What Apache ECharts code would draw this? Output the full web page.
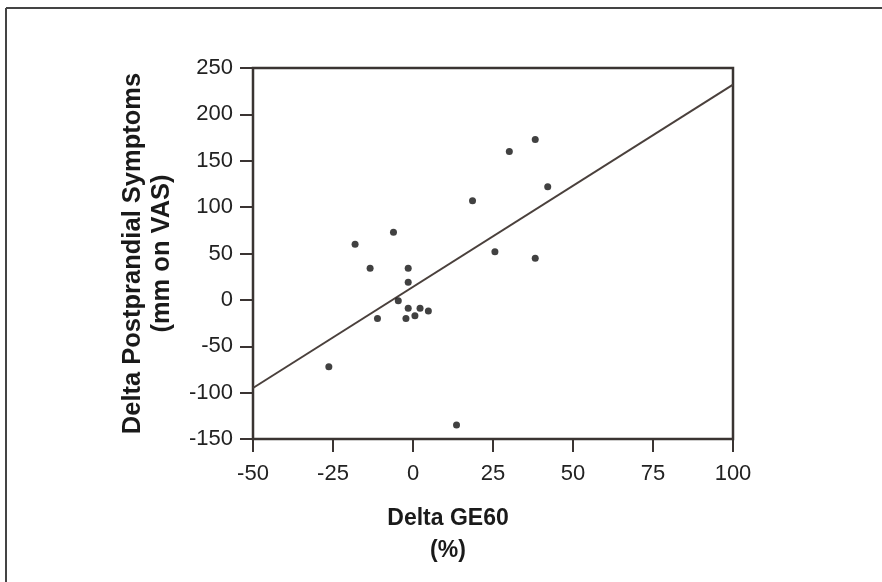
<!DOCTYPE html>
<html>
<head>
<meta charset="utf-8">
<script src="https://cdn.jsdelivr.net/npm/echarts@6/dist/echarts.min.js"></script>
<style>
  html, body { margin: 0; padding: 0; background: #fff; }
  #chart { width: 882px; height: 582px; }
</style>
</head>
<body>
<div id="chart"></div>
<script>
// data
const geX = [-26.3, -18.1, -13.4, -11.1, -6.1, -4.6, -2.2, -1.5, -1.5, -1.5, 0.6, 2.2, 4.8, 13.6, 18.6, 25.6, 30.1, 38.2, 38.2, 42.1]
const symptomY = [-72, 60, 34, -20, 73, -1, -20, 34, 19, -9, -17, -9, -12, -135, 107, 52, 160, 173, 45, 122]

// regression line ends
const fitX = [-50, 100]
const fitY = [-95, 232]

const xTicks = [-50, -25, 0, 25, 50, 75, 100]
const yTicks = [-150, -100, -50, 0, 50, 100, 150, 200, 250]

const points = geX.map((x, i) => [x, symptomY[i]])
const fitLine = fitX.map((x, i) => [x, fitY[i]])

const chart = echarts.init(document.getElementById('chart'))

const axisColor = '#3a3432'
const font = 'Liberation Sans, Arial, sans-serif'

const option = {
  animation: false,
  backgroundColor: '#fff',
  grid: {
    left: 253, right: 149, top: 68, bottom: 143,
    show: true,
    borderColor: axisColor,
    borderWidth: 2.5
  },
  xAxis: {
    type: 'value',
    min: xTicks[0],
    max: xTicks[xTicks.length - 1],
    interval: 25,
    name: 'Delta GE60\n(%)',
    nameLocation: 'middle',
    nameGap: 64,
    nameTextStyle: {
      color: '#1a1a1a', fontFamily: font, fontWeight: 'bold', fontSize: 23,
      lineHeight: 32, padding: [0, 90, 0, 0]
    },
    axisLine: { onZero: false, lineStyle: { color: axisColor, width: 2 } },
    axisTick: { show: true, inside: false, length: 13, lineStyle: { color: axisColor, width: 2 } },
    axisLabel: { color: '#222', fontFamily: font, fontSize: 22, margin: 24 },
    splitLine: { show: false }
  },
  yAxis: {
    type: 'value',
    min: yTicks[0],
    max: yTicks[yTicks.length - 1],
    interval: 50,
    name: 'Delta Postprandial Symptoms\n(mm on VAS)',
    nameLocation: 'middle',
    nameGap: 77,
    nameTextStyle: {
      color: '#1a1a1a', fontFamily: font, fontWeight: 'bold', fontSize: 25.5,
      lineHeight: 29
    },
    axisLine: { onZero: false, lineStyle: { color: axisColor, width: 2 } },
    axisTick: { show: true, inside: false, length: 13, lineStyle: { color: axisColor, width: 2 } },
    axisLabel: { color: '#222', fontFamily: font, fontSize: 22, margin: 20 },
    splitLine: { show: false }
  },
  graphic: [
    { type: 'line', shape: { x1: 6, y1: 8, x2: 6, y2: 582 }, style: { stroke: '#444', lineWidth: 2 } },
    { type: 'line', shape: { x1: 6, y1: 8, x2: 882, y2: 8 }, style: { stroke: '#444', lineWidth: 2 } }
  ],
  series: [
    {
      type: 'line',
      data: fitLine,
      showSymbol: false,
      lineStyle: { color: '#4a403c', width: 2 },
      z: 2
    },
    {
      type: 'scatter',
      data: points,
      symbol: 'circle',
      symbolSize: 7,
      itemStyle: { color: '#111' },
      z: 3
    }
  ]
}

chart.setOption(option)
</script>
</body>
</html>
